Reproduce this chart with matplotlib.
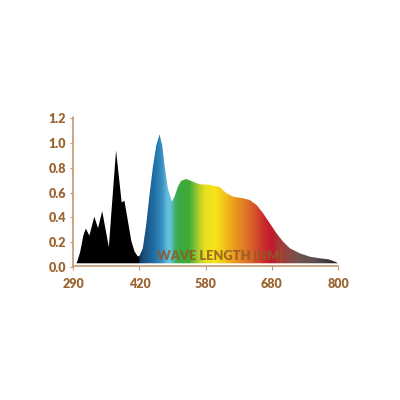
import numpy as np
import matplotlib
matplotlib.use("Agg")
import matplotlib.pyplot as plt
from matplotlib.colors import to_rgb
from matplotlib.font_manager import FontProperties

plt.rcParams["font.family"] = ["Lato", "DejaVu Sans"]
plt.rcParams["font.weight"] = "heavy"

# ---- data ----
tick_nm = [290, 420, 580, 680, 800]
tick_labels = ["290", "420", "580", "680", "800"]
y_ticks = [0.0, 0.2, 0.4, 0.6, 0.8, 1.0, 1.2]
y_tick_labels = ["0.0", "0.2", "0.4", "0.6", "0.8", "1.0", "1.2"]

wavelength = [296, 298.3, 303.6, 310, 314.6, 321.6, 331.3, 338.5, 346.8, 359.8,
              365, 374, 381.2, 385, 390.3, 397.3, 403.9, 410.3, 416.7, 420,
              428, 436.2, 444.2, 452.2, 460.5, 468.5, 475, 480.6, 488.6, 498.3,
              504.8, 512.8, 521, 533, 549, 565.3, 586, 601.2, 611.4, 621.5,
              636.6, 646.7, 656.9, 666.9, 677, 688.5, 700.5, 712.7, 730.9, 749,
              767.3, 782.4, 794.5, 800]
intensity = [0.03, 0.05, 0.123, 0.258, 0.31, 0.253, 0.406, 0.312, 0.45, 0.16,
             0.45, 0.94, 0.665, 0.52, 0.535, 0.37, 0.21, 0.125, 0.085, 0.09,
             0.15, 0.34, 0.58, 0.80, 0.98, 1.07, 0.98, 0.82, 0.635, 0.527,
             0.567, 0.648, 0.694, 0.71, 0.688, 0.667, 0.663, 0.645, 0.594, 0.567,
             0.554, 0.54, 0.50, 0.433, 0.352, 0.272, 0.204, 0.151, 0.11, 0.083,
             0.07, 0.062, 0.043, 0.03]

# ---- styles ----
grad_nm = [419.9, 420, 432, 456, 475, 485, 493, 500, 507, 517, 541, 553, 565, 580,
           594, 609, 624, 639, 654, 670, 680, 694, 713, 731, 758, 785, 800]
grad_col = ["#000000", "#15355a", "#1b4f7e", "#2070a5", "#3a8fc0", "#5ab4d8", "#6ac4e0",
            "#55bcb0", "#40ae6a", "#3aaa3f", "#40ab35", "#7bbf35", "#b5cf2a", "#ecdf1e",
            "#f7e41b", "#f2c21a", "#eb9a1f", "#e07a25", "#d6562b", "#c8282e", "#c01a2c",
            "#a8383a", "#8a4a45", "#6e5550", "#5a5050", "#3a3535", "#1a1a1a"]
label_color = "#9c6430"
spine_color = "#c09a72"
base = 0.03
font = FontProperties(family="Lato", weight="heavy", size=9)

tick_pos = np.arange(len(tick_nm), dtype=float)

def fwd(x):
    return np.interp(x, tick_nm, tick_pos)

def inv(p):
    return np.interp(p, tick_pos, tick_nm)

fig = plt.figure(figsize=(4, 4), dpi=100)
ax = fig.add_axes([0.18325, 0.3325, 0.66175, 0.37675])
ax.set_xscale("function", functions=(fwd, inv))
ax.set_xlim(290, 800)
ax.set_ylim(0, 1.215)

poly = ax.fill_between(wavelength, base, intensity, color="none", lw=0)

# horizontal gradient image in axes coords, clipped to the fill
ncol = 1200
frac = np.linspace(0, 1, ncol)
nm_cols = inv(frac * (len(tick_nm) - 1))
rgb_stops = np.array([to_rgb(c) for c in grad_col])
img = np.zeros((1, ncol, 3))
for k in range(3):
    img[0, :, k] = np.interp(nm_cols, grad_nm, rgb_stops[:, k])
img[0, nm_cols < 420, :] = 0.0
im = ax.imshow(img, extent=[0, 1, 0, 1], transform=ax.transAxes, aspect="auto",
               interpolation="bilinear", zorder=2)
im.set_clip_path(poly.get_paths()[0], transform=ax.transData)

# spines
for s in ["top", "right"]:
    ax.spines[s].set_visible(False)
ax.spines["bottom"].set_position(("data", 0.01))
ax.spines["left"].set_bounds(0.01, 1.21)
for s in ["left", "bottom"]:
    ax.spines[s].set_color(spine_color)
    ax.spines[s].set_linewidth(1.2)
    ax.spines[s].set_capstyle("round")

ax.set_xticks(tick_nm)
ax.set_xticklabels(tick_labels, fontproperties=font, color=label_color)
ax.set_yticks(y_ticks)
ax.set_yticklabels(y_tick_labels, fontproperties=font, color=label_color)
ax.xaxis.set_minor_locator(matplotlib.ticker.NullLocator())
ax.tick_params(axis="x", length=3, width=0.8, color=spine_color, pad=5.5)
ax.tick_params(axis="y", length=2.5, width=0.8, color=spine_color, pad=2.5)

ax.text(601, 0.094, "WAVE LENGTH (NM)", ha="center", va="center",
        fontproperties=FontProperties(family="Lato", weight="heavy", size=9.3),
        color="#8f5a26", alpha=0.85, zorder=5)

fig.savefig("out.png", dpi=100, facecolor="white")
